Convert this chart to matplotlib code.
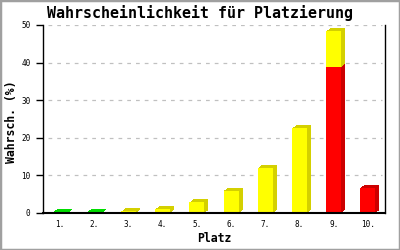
import matplotlib
matplotlib.use("Agg")
import matplotlib.pyplot as plt
import matplotlib.transforms as mtransforms
from matplotlib.patches import Rectangle
import numpy as np

places = ['1.', '2.', '3.', '4.', '5.', '6.', '7.', '8.', '9.', '10.']
red_vals = [0, 0, 0, 0, 0, 0, 0, 0, 38.8, 6.7]
yellow_vals = [0, 0, 0.4, 1.0, 2.8, 5.9, 12.0, 22.5, 9.6, 0]
green_vals = [0.2, 0.2, 0, 0, 0, 0, 0, 0, 0, 0]
yticks = [0, 10, 20, 30, 40, 50]

series = [
    (red_vals, '#ff0000', '#cc0000'),
    (yellow_vals, '#ffff00', '#d4d000'),
    (green_vals, '#00ee00', '#00dd00'),
]

fig = plt.figure(figsize=(4, 2.5), dpi=100)
fig.patch.set_facecolor('white')
fig.patches.append(Rectangle((0, 0), 1, 1, transform=fig.transFigure,
                             fill=False, edgecolor='#a0a0a0', linewidth=2.5))
ax = fig.add_axes([43/400, 1-213/250, (385-43)/400, (213-25)/250])

x = np.arange(len(places))
w = 0.44
steps = 10

bottom = np.zeros(len(places))
for vals, col, dark in series:
    v = np.array(vals, dtype=float)
    for k in range(1, steps + 1):
        f = k / steps
        tr = ax.transData + mtransforms.ScaledTranslation(4 * f / 100, 3 * f / 100,
                                                          fig.dpi_scale_trans)
        ax.bar(x, v, w, bottom=bottom, color=dark, transform=tr, zorder=2, linewidth=0)
    bottom = bottom + v
bottom = np.zeros(len(places))
for vals, col, dark in series:
    v = np.array(vals, dtype=float)
    ax.bar(x, v, w, bottom=bottom, color=col, zorder=3, linewidth=0)
    bottom = bottom + v

ax.set_xlim(-0.5, len(places) - 0.5)
ax.set_ylim(0, 50)
ax.set_yticks(yticks)
ax.set_yticklabels([str(t) for t in yticks], family='DejaVu Sans Mono', fontsize=5.5)
ax.set_xticks(x)
ax.set_xticklabels(places, family='DejaVu Sans Mono', fontsize=5.5)
ax.tick_params(axis='x', length=0, pad=5)
ax.tick_params(axis='y', length=5, width=1, pad=4)
for t in yticks[1:]:
    ax.axhline(t, xmin=0.015, xmax=0.99, color='#c0c0c0', linestyle=(0, (3, 4)),
               linewidth=0.9, zorder=0)
ax.spines['top'].set_visible(False)
ax.spines['left'].set_linewidth(1)
ax.spines['right'].set_linewidth(1)
ax.spines['bottom'].set_linewidth(1.5)
ax.spines['bottom'].set_zorder(5)

ax.set_xlabel('Platz', family='DejaVu Sans Mono', fontweight='bold', fontsize=8.3, labelpad=2)
ax.set_ylabel('Wahrsch. (%)', family='DejaVu Sans Mono', fontweight='bold', fontsize=8.3)
ax.yaxis.label.set_va('center')
ax.yaxis.set_label_coords((12 - 43) / 342, (213 - 121.5) / 188)
fig.text(0.5, 1-13/250, 'Wahrscheinlichkeit für Platzierung', ha='center', va='center',
         family='DejaVu Sans Mono', fontweight='bold', fontsize=10.8)

fig.savefig('out.png', dpi=100)
